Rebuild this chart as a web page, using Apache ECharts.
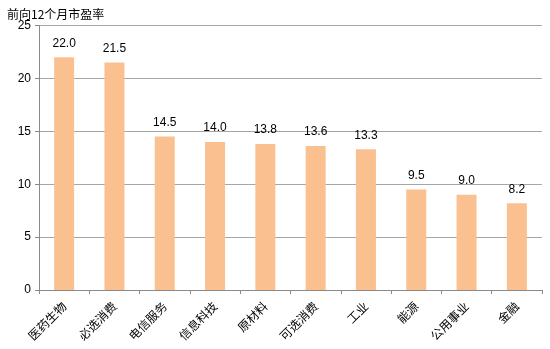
<!DOCTYPE html>
<html>
<head>
<meta charset="utf-8">
<script src="https://cdn.jsdelivr.net/npm/echarts@6/dist/echarts.min.js"></script>
<style>
  html, body { margin: 0; padding: 0; background: #fff; }
  #chart { width: 550px; height: 349px; }
</style>
</head>
<body>
<div id="chart"></div>
<script>
// Sector names and forward 12-month P/E values
const categories = ['医药生物', '必选消费', '电信服务', '信息科技', '原材料', '可选消费', '工业', '能源', '公用事业', '金融'];
const peValues = [22.0, 21.5, 14.5, 14.0, 13.8, 13.6, 13.3, 9.5, 9.0, 8.2];
const yTicks = [0, 5, 10, 15, 20, 25];

const chart = echarts.init(document.getElementById('chart'), null, { renderer: 'canvas' });
chart.setOption({
  animation: false,
  backgroundColor: '#ffffff',
  title: {
    text: '前向12个月市盈率',
    left: 2,
    top: 3,
    textStyle: { fontFamily: 'Noto Sans CJK SC', fontSize: 12, fontWeight: 'normal', color: '#000' }
  },
  grid: { left: 39, right: 8, top: 25.5, bottom: 59, containLabel: false },
  xAxis: {
    type: 'category',
    data: categories,
    axisLine: { lineStyle: { color: '#8a8a8a', width: 1 } },
    axisTick: { show: true, alignWithLabel: false, length: 4, lineStyle: { color: '#8a8a8a' } },
    axisLabel: {
      rotate: 45,
      interval: 0,
      margin: 14,
      fontFamily: 'Noto Sans CJK SC',
      fontSize: 12,
      color: '#000'
    }
  },
  yAxis: {
    type: 'value',
    min: yTicks[0],
    max: yTicks[yTicks.length - 1],
    interval: 5,
    axisLine: { show: true, lineStyle: { color: '#8a8a8a', width: 1 } },
    axisTick: { show: true, length: 4, inside: false, lineStyle: { color: '#8a8a8a' } },
    axisLabel: { margin: 8, fontFamily: 'Arial, Liberation Sans', fontSize: 12, color: '#000' },
    splitLine: { show: true, lineStyle: { color: '#a6a6a6', width: 1 } }
  },
  series: [{
    type: 'bar',
    data: peValues,
    barWidth: 20,
    itemStyle: { color: '#fac090' },
    label: {
      show: true,
      position: 'top',
      distance: 8,
      formatter: p => p.value.toFixed(1),
      fontFamily: 'Arial, Liberation Sans',
      fontSize: 12,
      color: '#000'
    }
  }]
});
</script>
</body>
</html>
